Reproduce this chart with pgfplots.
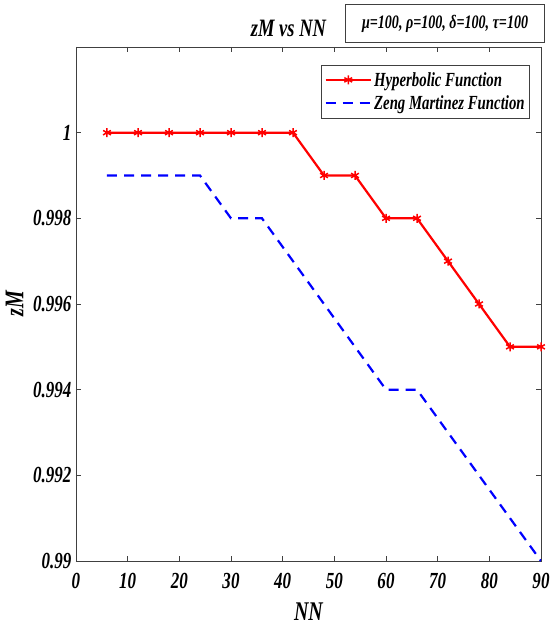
\documentclass[border=0pt]{standalone}
\usepackage{fontspec}
\setmainfont{Liberation Serif}[FakeStretch=0.74]
\usepackage{pgfplots}
\pgfplotsset{compat=1.18}
\begin{document}
\begin{tikzpicture}
\begin{axis}[
  name=ax,
  scale only axis,
  clip mode=individual,
  width=465pt, height=514pt,
  xmin=0, xmax=90, ymin=0.99, ymax=1.002,
  xtick={0,10,...,90},
  ytick={0.99,0.992,0.994,0.996,0.998,1},
  scaled y ticks=false,
  /pgf/number format/assume math mode=true,
  /pgf/number format/fixed,
  /pgf/number format/precision=3,
  tick label style={font=\bfseries\itshape\fontsize{23}{26}\selectfont},
  xticklabel style={yshift=-9pt},
  yticklabel style={xshift=-1pt},
  tick align=inside,
  major tick length=5pt,
  axis line style={black!75, line width=0.8pt},
  every tick/.style={black!75, line width=0.8pt},
  xlabel={NN}, ylabel={zM},
  label style={font=\bfseries\itshape\fontsize{27}{30}\selectfont},
  xlabel style={yshift=-7pt},
  ylabel style={yshift=3pt},
  legend style={at={(0.976,0.965)}, anchor=north east, draw=black!75,
    font=\bfseries\itshape\fontsize{20}{23}\selectfont,
    row sep=4pt, inner xsep=3pt, inner ysep=5pt, cells={anchor=west}},
  legend image code/.code={\draw[mark repeat=2,mark phase=2,#1] plot coordinates {(0cm,0cm) (0.8cm,0cm) (1.6cm,0cm)};},
]
\addplot[red, line width=2.2pt, mark=asterisk, mark size=4.5pt, mark options={solid, line width=1.5pt}] coordinates {
(6,1) (12,1) (18,1) (24,1) (30,1) (36,1) (42,1) (48,0.999) (54,0.999) (60,0.998) (66,0.998) (72,0.997) (78,0.996) (84,0.995) (90,0.995)};
\addlegendentry{Hyperbolic Function}
\addplot[blue, line width=2.2pt, dash pattern=on 10pt off 7pt] coordinates {
(6,0.999) (12,0.999) (18,0.999) (24,0.999) (30,0.998) (36,0.998) (42,0.997) (48,0.996) (54,0.995) (60,0.994) (66,0.994) (72,0.993) (78,0.992) (84,0.991) (90,0.990)};
\addlegendentry{Zeng Martinez Function}
\end{axis}
\node[anchor=south, font=\bfseries\itshape\fontsize{25}{28}\selectfont] at ([xshift=-20pt, yshift=7pt]ax.north) {zM vs NN};
\node[anchor=south east, draw=black!75, line width=0.8pt, minimum width=199pt, minimum height=38pt, font=\bfseries\itshape\fontsize{19}{22}\selectfont] at ([xshift=4pt, yshift=4pt]ax.north east) {μ=100, ρ=100, δ=100, τ=100};
\pgfresetboundingbox
\path ([shift={(-76pt,-67pt)}]ax.south west) rectangle ([shift={(9pt,47pt)}]ax.north east);
\end{tikzpicture}
\end{document}
